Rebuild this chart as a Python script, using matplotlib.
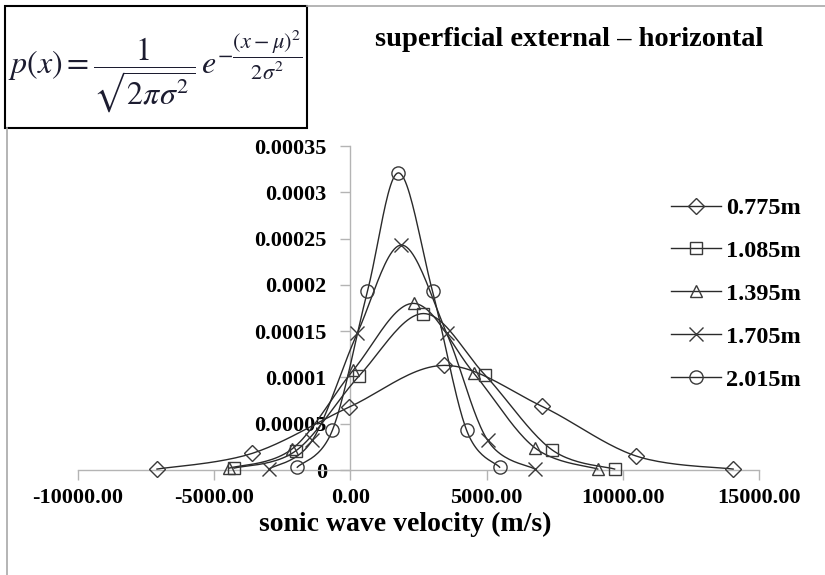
import numpy as np
import matplotlib
matplotlib.use("Agg")
import matplotlib.pyplot as plt
from matplotlib.lines import Line2D
from matplotlib.patches import Rectangle

# ---------------- data ----------------
series_labels = ["0.775m", "1.085m", "1.395m", "1.705m", "2.015m"]
series_markers = ["D", "s", "^", "x", "o"]

x_0775 = [-7100, -3600, -40, 3450, 7020, 10500, 14050]
y_0775 = [0.000001, 0.000018, 0.000068, 0.000113, 0.000069, 0.000015, 0.000001]

x_1085 = [-4270, -1990, 330, 2680, 4930, 7390, 9700]
y_1085 = [0.000002, 0.000021, 0.000102, 0.000169, 0.000103, 0.000022, 0.000001]

x_1395 = [-4450, -2130, 110, 2320, 4520, 6770, 9080]
y_1395 = [0.000002, 0.000023, 0.000108, 0.000180, 0.000105, 0.000024, 0.000001]

x_1705 = [-3000, -1400, 257, 1875, 3530, 5040, 6770]
y_1705 = [0.000001, 0.000032, 0.000148, 0.000243, 0.000148, 0.000032, 0.000001]

x_2015 = [-1950, -660, 625, 1765, 3015, 4265, 5478]
y_2015 = [0.000003, 0.000043, 0.000193, 0.000321, 0.000193, 0.000043, 0.000003]

xs_all = [x_0775, x_1085, x_1395, x_1705, x_2015]
ys_all = [y_0775, y_1085, y_1395, y_1705, y_2015]

x_ticks = [-10000, -5000, 0, 5000, 10000, 15000]
x_tick_labels = ["-10000.00", "-5000.00", "0.00", "5000.00", "10000.00", "15000.00"]
y_ticks = [0, 0.00005, 0.0001, 0.00015, 0.0002, 0.00025, 0.0003, 0.00035]
y_tick_labels = ["0", "0.00005", "0.0001", "0.00015", "0.0002", "0.00025", "0.0003", "0.00035"]

title_text = "superficial external \u2013 horizontal"
xlabel_text = "sonic wave velocity (m/s)"
formula_text = r"$p(x)=\dfrac{1}{\sqrt{2\pi\sigma^2}}\,e^{-\dfrac{(x-\mu)^2}{2\sigma^2}}$"

# ---------------- helpers ----------------
def catmull_rom(xs, ys, n=24):
    pts = np.column_stack([xs, ys]).astype(float)
    P = np.vstack([pts[0], pts, pts[-1]])
    out = []
    t = np.linspace(0, 1, n, endpoint=False)[:, None]
    for i in range(1, len(P) - 2):
        p0, p1, p2, p3 = P[i - 1], P[i], P[i + 1], P[i + 2]
        c = 0.5 * ((2 * p1) + (-p0 + p2) * t + (2 * p0 - 5 * p1 + 4 * p2 - p3) * t ** 2
                   + (-p0 + 3 * p1 - 3 * p2 + p3) * t ** 3)
        out.append(c)
    out.append(pts[-1][None])
    return np.vstack(out)

W, H = 825, 575
def fx(x):
    return x / W
def fy(y):
    return 1 - y / H

plt.rcParams["font.family"] = ["Liberation Serif", "DejaVu Serif"]
plt.rcParams["mathtext.fontset"] = "stix"

fig = plt.figure(figsize=(W / 100, H / 100), dpi=100)
fig.patch.set_facecolor("white")

ax = fig.add_axes([fx(78), fy(470), (759 - 78) / W, (470 - 146) / H])
ax.set_xlim(-10000, 15000)
ax.set_ylim(0, 0.00035)

line_col = "#2a2a2a"
mk_col = "#3a3a3a"
sizes = {"D": 8, "s": 8.5, "^": 9, "x": 10, "o": 9.5}

for xs, ys, mk in zip(xs_all, ys_all, series_markers):
    c = catmull_rom(xs, ys)
    ax.plot(c[:, 0], c[:, 1], color=line_col, lw=1.0, clip_on=False, zorder=3)
    ax.plot(xs, ys, ls="none", marker=mk, ms=sizes[mk], mfc="none", mec=mk_col,
            mew=1.0, clip_on=False, zorder=4)

# spines
for s in ["top", "right"]:
    ax.spines[s].set_visible(False)
ax.spines["left"].set_position(("data", 0))
ax.spines["bottom"].set_position(("data", 0))
for s in ["left", "bottom"]:
    ax.spines[s].set_color("#b4b4b4")
    ax.spines[s].set_linewidth(1.0)

ax.set_xticks(x_ticks)
ax.set_xticklabels(x_tick_labels)
ax.set_yticks(y_ticks)
ax.set_yticklabels(y_tick_labels)
ax.tick_params(axis="both", colors="#b4b4b4", length=7, width=1.0, direction="out",
               labelcolor="black", labelsize=16)
ax.tick_params(axis="y", pad=10)
ax.tick_params(axis="x", pad=6)
for lab in ax.get_xticklabels() + ax.get_yticklabels():
    lab.set_fontweight("bold")
ax.patch.set_alpha(0)

# legend
handles = [Line2D([0], [0], color=line_col, lw=1.0, marker=mk, ms=sizes[mk],
                  mfc="none", mec=mk_col, mew=1.0)
           for mk in series_markers]
leg = ax.legend(handles, series_labels, loc="upper left",
                bbox_to_anchor=(fx(671), fy(197)), bbox_transform=fig.transFigure,
                frameon=False, borderpad=0, borderaxespad=0,
                handlelength=2.05, handletextpad=0.22, labelspacing=0.86,
                prop={"weight": "bold", "size": 17.5})

# title and x label
fig.text(fx(569), fy(40), title_text, ha="center", va="center",
         fontsize=20.5, fontweight="bold")
fig.text(fx(405), fy(524), xlabel_text, ha="center", va="center",
         fontsize=20, fontweight="bold")

# formula box
fig.patches.append(Rectangle((fx(5), fy(128)), fx(307) - fx(5), fy(6) - fy(128),
                             transform=fig.transFigure, fill=False,
                             edgecolor="black", lw=1.5))
fig.text(fx(155), fy(72), formula_text, ha="center", va="center",
         fontsize=23, color="#1c1c30")

# outer gray frame fragments
fig.add_artist(Line2D([fx(307), 1.0], [fy(6), fy(6)], transform=fig.transFigure,
                      color="#a8a8a8", lw=1.2))
fig.add_artist(Line2D([fx(7), fx(7)], [fy(128), 0.0], transform=fig.transFigure,
                      color="#a8a8a8", lw=1.2))

fig.savefig("out.png", dpi=100, facecolor="white")
